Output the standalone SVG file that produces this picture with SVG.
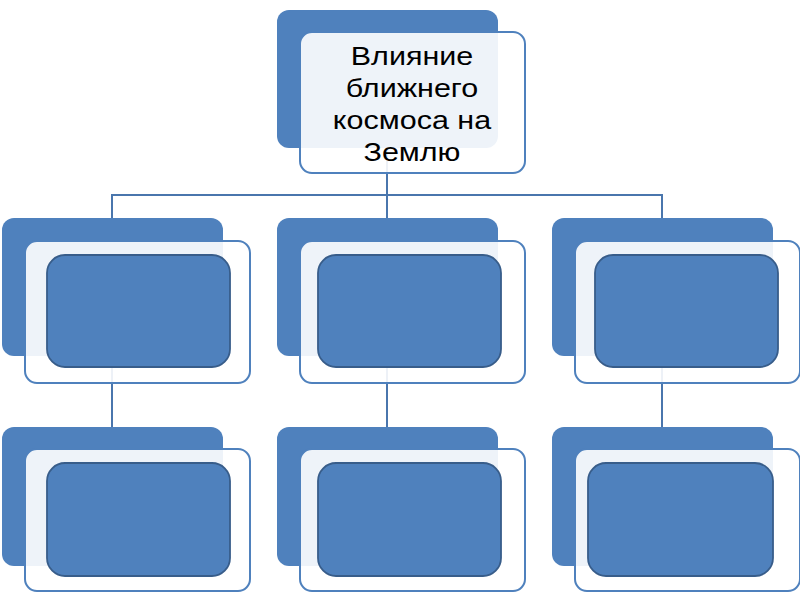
<svg xmlns="http://www.w3.org/2000/svg" width="800" height="600" viewBox="0 0 800 600">
<style>
.back{fill:#4f81bd;}
.front{fill:#ffffff;fill-opacity:0.9;stroke:#4f81bd;stroke-width:2;}
.inner{fill:#4f81bd;stroke:#385d8a;stroke-width:1.8;}
.conn{fill:none;stroke:#4a76ad;stroke-width:2;}
.lbl{font-family:"Liberation Sans",Arial,sans-serif;font-size:25px;fill:#000;text-anchor:middle;}
</style>
<rect width="800" height="600" fill="#ffffff"/>
<g id="connectors">
<path class="conn" d="M387,148 V195 M112,218 V195 H662 V218 M387,195 V218"/>
<path class="conn" d="M112,356 V428 M387,356 V428 M662,356 V428"/>
</g>
<g id="root">
<rect class="back" x="277" y="10" width="221" height="138" rx="12"/>
<rect class="front" x="300" y="32" width="225" height="141" rx="12"/>
<g transform="translate(412,0) scale(1.22,1)">
<text class="lbl" x="0" y="65">Влияние</text>
<text class="lbl" x="0" y="97">ближнего</text>
<text class="lbl" x="0" y="129">космоса на</text>
<text class="lbl" x="0" y="161">Землю</text>
</g>
</g>
<g id="n1">
<rect class="back" x="2" y="218" width="221" height="138" rx="12"/>
<rect class="front" x="25" y="241" width="225" height="142" rx="12"/>
<rect class="inner" x="47" y="255" width="183" height="112" rx="18"/>
</g>
<g id="n2">
<rect class="back" x="277" y="218" width="221" height="138" rx="12"/>
<rect class="front" x="300" y="241" width="225" height="142" rx="12"/>
<rect class="inner" x="318" y="255" width="183" height="112" rx="18"/>
</g>
<g id="n3">
<rect class="back" x="552" y="218" width="221" height="138" rx="12"/>
<rect class="front" x="575" y="241" width="225" height="142" rx="12"/>
<rect class="inner" x="595" y="255" width="183" height="112" rx="18"/>
</g>
<g id="n4">
<rect class="back" x="2" y="427" width="221" height="139" rx="12"/>
<rect class="front" x="25" y="449" width="225" height="142" rx="12"/>
<rect class="inner" x="47" y="463" width="183" height="113" rx="18"/>
</g>
<g id="n5">
<rect class="back" x="277" y="427" width="221" height="139" rx="12"/>
<rect class="front" x="300" y="449" width="225" height="142" rx="12"/>
<rect class="inner" x="318" y="463" width="183" height="113" rx="18"/>
</g>
<g id="n6">
<rect class="back" x="552" y="427" width="221" height="139" rx="12"/>
<rect class="front" x="575" y="449" width="225" height="142" rx="12"/>
<rect class="inner" x="588" y="463" width="185" height="113" rx="18"/>
</g>
</svg>
